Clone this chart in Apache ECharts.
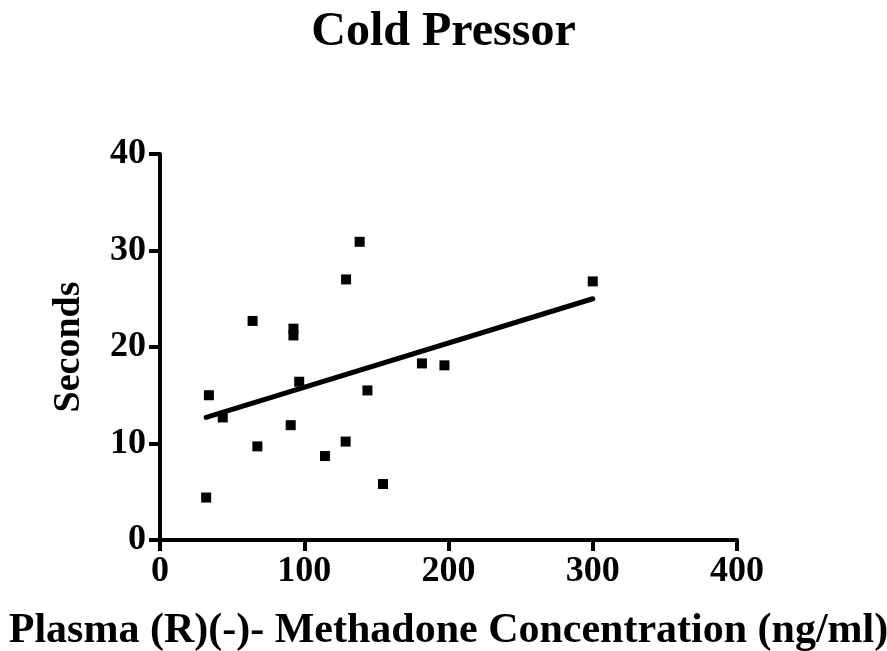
<!DOCTYPE html>
<html>
<head>
<meta charset="utf-8">
<script src="https://cdn.jsdelivr.net/npm/echarts@6/dist/echarts.min.js"></script>
<style>html,body{margin:0;padding:0;background:#fff}#c{width:887px;height:651px}</style>
</head>
<body>
<div id="c"></div>
<script>
const concentration = [33.9, 43.5, 32, 64.2, 67.5, 92.5, 92.5, 96.5, 90.6, 129, 138.4, 128.7, 114.4, 143.8, 154.6, 181.6, 197.2, 300];
const seconds = [15.0, 12.7, 4.4, 22.7, 9.7, 21.9, 21.2, 16.4, 11.9, 27.0, 30.9, 10.2, 8.7, 15.5, 5.8, 18.3, 18.1, 26.8];
const fitX = [32, 300];
const fitY = [12.7, 25.0];
const xTicks = [0, 100, 200, 300, 400];
const yTicks = [0, 10, 20, 30, 40];

const FONT = '"Liberation Serif", "Times New Roman", serif';
const chart = echarts.init(document.getElementById('c'));
const axisCommon = {
  axisLine: { show: true, lineStyle: { color: '#000', width: 4 } },
  axisTick: { show: true, inside: false, length: 11, lineStyle: { color: '#000', width: 4 } },
  splitLine: { show: false },
  axisLabel: { color: '#000', fontFamily: FONT, fontWeight: 'bold', fontSize: 36 }
};
chart.setOption({
  backgroundColor: '#fff',
  animation: false,
  title: {
    text: 'Cold Pressor', left: 'center', top: 4,
    textStyle: { fontFamily: FONT, fontWeight: 'bold', fontSize: 48, color: '#000' }
  },
  grid: { left: 160, right: 150, top: 154, bottom: 111, containLabel: false, outerBoundsMode: 'none' },
  xAxis: Object.assign({
    type: 'value', min: xTicks[0], max: xTicks[xTicks.length - 1], interval: 100,
    name: 'Plasma (R)(-)- Methadone Concentration (ng/ml)', nameLocation: 'middle', nameGap: 70,
    nameTextStyle: { fontFamily: FONT, fontWeight: 'bold', fontSize: 42, color: '#000' }
  }, axisCommon, { axisLabel: Object.assign({}, axisCommon.axisLabel, { margin: 14 }) }),
  yAxis: Object.assign({
    type: 'value', min: yTicks[0], max: yTicks[yTicks.length - 1], interval: 10,
    name: 'Seconds', nameLocation: 'middle', nameGap: 72, nameRotate: 90,
    nameTextStyle: { fontFamily: FONT, fontWeight: 'bold', fontSize: 38, color: '#000' }
  }, axisCommon, { axisLabel: Object.assign({}, axisCommon.axisLabel, { margin: 14 }) }),
  series: [
    {
      type: 'scatter', symbol: 'rect', symbolSize: 10,
      itemStyle: { color: '#000', opacity: 1 },
      data: concentration.map((x, i) => [x, seconds[i]])
    },
    {
      type: 'line', symbol: 'none',
      lineStyle: { color: '#000', width: 5, cap: 'round' },
      data: fitX.map((x, i) => [x, fitY[i]])
    }
  ]
});
</script>
</body>
</html>
